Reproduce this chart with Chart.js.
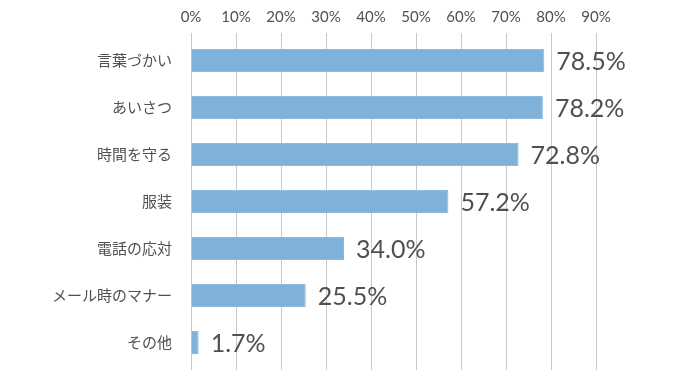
<!DOCTYPE html>
<html>
<head>
<meta charset="utf-8">
<script src="https://cdn.jsdelivr.net/npm/chart.js@4/dist/chart.umd.min.js"></script>
<style>
  html, body { margin: 0; padding: 0; background: #fff; overflow: hidden; }
  canvas { display: block; }
</style>
</head>
<body>
<canvas id="mycanvas" width="678" height="377"></canvas>
<script>
var categories = ["言葉づかい", "あいさつ", "時間を守る", "服装", "電話の応対", "メール時のマナー", "その他"];
var values = [78.5, 78.2, 72.8, 57.2, 34.0, 25.5, 1.7];
var tickValues = [0, 10, 20, 30, 40, 50, 60, 70, 80, 90];

// value labels drawn at the end of each bar
var valueLabels = {
    id: 'valueLabels',
    afterDatasetsDraw: function(chart) {
        var ctx = chart.ctx;
        var meta = chart.getDatasetMeta(0);
        ctx.save();
        ctx.font = '25px Lato, "Noto Sans", sans-serif';
        ctx.fillStyle = '#505050';
        ctx.textAlign = 'left';
        ctx.textBaseline = 'middle';
        meta.data.forEach(function(bar, i) {
            ctx.fillText(values[i].toFixed(1) + '%', bar.x + 12, bar.y + 1);
        });
        ctx.restore();
    }
};

// grid lines run a few pixels past the bottom of the plot
var gridTail = {
    id: 'gridTail',
    beforeDatasetsDraw: function(chart) {
        var ctx = chart.ctx;
        var x = chart.scales.x;
        var bottom = chart.chartArea.bottom;
        ctx.save();
        ctx.strokeStyle = '#c8c8c8';
        ctx.lineWidth = 1;
        tickValues.forEach(function(v) {
            var px = Math.round(x.getPixelForValue(v)) + 0.5;
            ctx.beginPath();
            ctx.moveTo(px, bottom);
            ctx.lineTo(px, bottom + 4);
            ctx.stroke();
        });
        ctx.restore();
    }
};

var ctx = document.getElementById('mycanvas');
var barGraph = new Chart(ctx, {
    type: 'bar',
    data: {
        labels: categories,
        datasets: [{
            data: values,
            backgroundColor: '#7fb1d9',
            borderColor: '#8dbbe0',
            borderWidth: 1,
            categoryPercentage: 1,
            barPercentage: 0.49
        }]
    },
    options: {
        indexAxis: 'y',
        responsive: false,
        animation: false,
        layout: { padding: { left: 0, right: 82, top: 0, bottom: 11 } },
        plugins: {
            legend: { display: false },
            tooltip: { enabled: false }
        },
        scales: {
            x: {
                position: 'top',
                min: 0,
                max: 90,
                afterBuildTicks: function(scale) {
                    scale.ticks = tickValues.map(function(v) { return { value: v }; });
                },
                afterFit: function(scale) { scale.height = 37; },
                grid: { color: '#c8c8c8', drawTicks: true, tickLength: 4, lineWidth: 1 },
                border: { display: false },
                ticks: {
                    padding: 7,
                    color: '#505050',
                    font: { family: 'Lato, "Noto Sans", sans-serif', size: 15 },
                    callback: function(v) { return v + '%'; }
                }
            },
            y: {
                afterFit: function(scale) {
                    scale.width = 191;
                    scale.paddingTop = 0;
                    scale.paddingBottom = 0;
                },
                grid: { display: false, drawTicks: false },
                border: { display: false },
                ticks: {
                    padding: 19,
                    color: '#505050',
                    font: { family: '"Noto Sans CJK JP", sans-serif', size: 15 }
                }
            }
        }
    },
    plugins: [valueLabels, gridTail]
});
</script>
</body>
</html>
